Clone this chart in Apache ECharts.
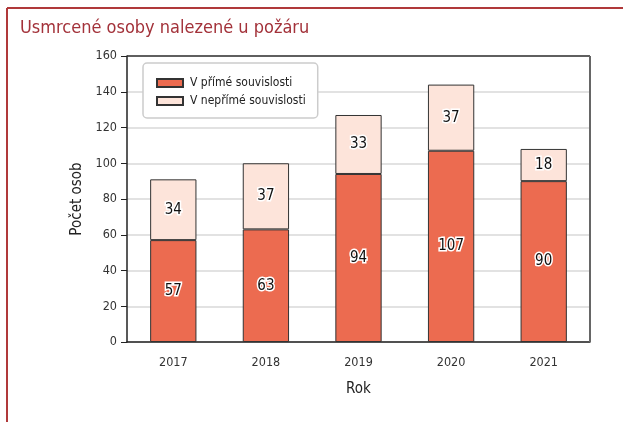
<!DOCTYPE html>
<html>
<head>
<meta charset="utf-8">
<script src="https://cdn.jsdelivr.net/npm/echarts@6/dist/echarts.min.js"></script>
<style>
  html, body { margin: 0; padding: 0; background: #fff; }
  #chart { width: 623px; height: 422px; }
</style>
</head>
<body>
<div id="chart"></div>
<script>
// Deaths found at fires, split by direct / indirect relation
const years = ['2017', '2018', '2019', '2020', '2021'];
const direct = [57, 63, 94, 107, 90];
const indirect = [34, 37, 33, 37, 18];
const seriesNames = ['V přímé souvislosti', 'V nepřímé souvislosti'];
const yTicks = { min: 0, max: 160, interval: 20 };

const FONT = '"Liberation Sans Narrow", "DejaVu Sans Condensed", "Roboto", sans-serif';

const chart = echarts.init(document.getElementById('chart'), null, { renderer: 'canvas' });

const labelStyle = {
  show: true,
  position: 'inside',
  fontFamily: FONT,
  fontSize: 15,
  color: '#111',
  textBorderColor: '#fff',
  textBorderWidth: 3
};

chart.setOption({
  animation: false,
  backgroundColor: '#fff',
  graphic: [
    // framing lines at top and left
    { type: 'line', shape: { x1: 7, y1: 8, x2: 623, y2: 8 }, style: { stroke: '#b0393a', lineWidth: 2 } },
    { type: 'line', shape: { x1: 7, y1: 8, x2: 7, y2: 422 }, style: { stroke: '#b0393a', lineWidth: 2 } },
    { type: 'text', left: 20, top: 19, style: { text: 'Usmrcené osoby nalezené u požáru', fontFamily: FONT, fontSize: 18, fill: '#a3323a' } },
    // box around the plot area
    { type: 'line', shape: { x1: 127, y1: 56, x2: 590, y2: 56 }, style: { stroke: '#333', lineWidth: 1.5 }, z: 5 },
    { type: 'line', shape: { x1: 590, y1: 56, x2: 590, y2: 342 }, style: { stroke: '#666', lineWidth: 2 }, z: 5 }
  ],
  legend: {
    left: 143,
    top: 63,
    orient: 'vertical',
    itemWidth: 26,
    itemHeight: 8,
    itemGap: 6,
    padding: [14, 12, 11, 13],
    backgroundColor: '#fff',
    borderColor: '#ccc',
    borderWidth: 1.5,
    borderRadius: 4,
    textStyle: { fontFamily: FONT, fontSize: 12, color: '#222', padding: [0, 0, 0, 2] },
    data: seriesNames.map(n => ({ name: n, icon: 'rect' })),
    z: 10
  },
  grid: { left: 127, right: 33, top: 56, bottom: 80 },
  xAxis: {
    type: 'category',
    data: years,
    name: 'Rok',
    nameLocation: 'middle',
    nameGap: 40,
    nameTextStyle: { fontFamily: FONT, fontSize: 15, color: '#222' },
    axisLine: { lineStyle: { color: '#222', width: 1.5 } },
    axisTick: { alignWithLabel: true, length: 6, lineStyle: { color: '#222' } },
    axisLabel: { fontFamily: FONT, fontSize: 12.5, color: '#333', margin: 14 }
  },
  yAxis: {
    type: 'value',
    min: yTicks.min,
    max: yTicks.max,
    interval: yTicks.interval,
    name: 'Počet osob',
    nameLocation: 'middle',
    nameGap: 36,
    nameTextStyle: { fontFamily: FONT, fontSize: 15, color: '#222' },
    axisLine: { show: true, lineStyle: { color: '#222', width: 1.5 } },
    axisTick: { show: true, length: 6, lineStyle: { color: '#222' } },
    axisLabel: { fontFamily: FONT, fontSize: 12.5, color: '#333', margin: 10 },
    splitLine: { lineStyle: { color: '#d9d9d9', width: 1.5 } }
  },
  series: [
    {
      name: seriesNames[0],
      type: 'bar',
      stack: 'total',
      barWidth: '50%',
      data: direct,
      itemStyle: { color: '#ec6b50', borderColor: '#333', borderWidth: 1 },
      label: labelStyle
    },
    {
      name: seriesNames[1],
      type: 'bar',
      stack: 'total',
      barWidth: '50%',
      data: indirect,
      itemStyle: { color: '#fde4da', borderColor: '#333', borderWidth: 1 },
      label: labelStyle
    }
  ]
});
</script>
</body>
</html>
